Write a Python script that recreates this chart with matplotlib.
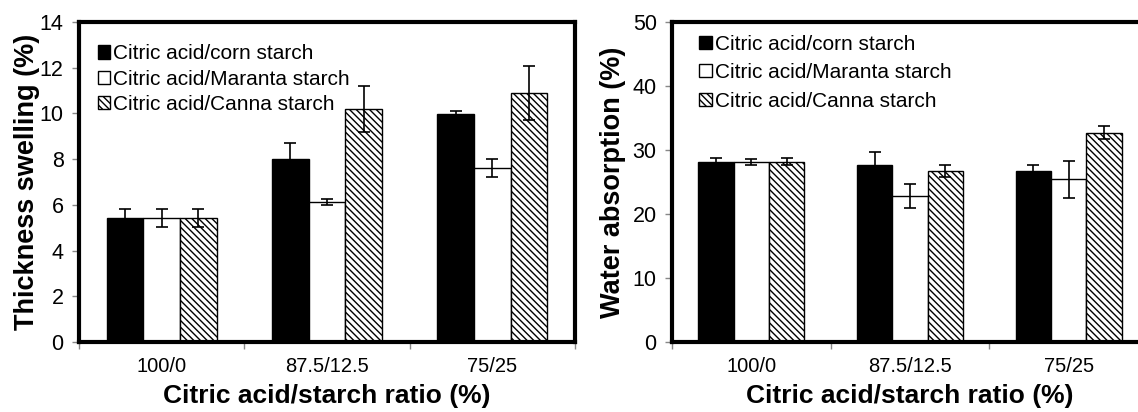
import matplotlib
matplotlib.use('Agg')
import matplotlib.pyplot as plt
import numpy as np

plt.rcParams['font.family'] = ['Liberation Sans', 'DejaVu Sans']
plt.rcParams['hatch.linewidth'] = 1.0

ratios = ['100/0', '87.5/12.5', '75/25']
series = ['Citric acid/corn starch', 'Citric acid/Maranta starch', 'Citric acid/Canna starch']

# thickness swelling (%)
ts_corn = [5.42, 8.0, 9.96]
ts_corn_err = [0.4, 0.72, 0.15]
ts_maranta = [5.42, 6.13, 7.62]
ts_maranta_err = [0.4, 0.14, 0.4]
ts_canna = [5.43, 10.2, 10.9]
ts_canna_err = [0.4, 1.0, 1.17]

# water absorption (%)
wa_corn = [28.2, 27.6, 26.7]
wa_corn_err = [0.5, 2.1, 0.9]
wa_maranta = [28.1, 22.8, 25.4]
wa_maranta_err = [0.5, 1.9, 2.9]
wa_canna = [28.2, 26.7, 32.7]
wa_canna_err = [0.5, 0.9, 1.0]

styles = [dict(color='black', edgecolor='black'),
          dict(color='white', edgecolor='black'),
          dict(color='white', edgecolor='black', hatch='\\\\\\\\\\')]

fig = plt.figure(figsize=(11.38, 4.12), dpi=100)
ax1 = fig.add_axes([79/1138, 70/412, 496/1138, 320/412])
ax2 = fig.add_axes([672/1138, 70/412, 476/1138, 320/412])


def draw(ax, data, errs, ymax, ystep, ylabel, ylab_x, leg_anchor, leg_space):
    x = np.arange(len(ratios))
    w = 0.222
    for i, (vals, err, st) in enumerate(zip(data, errs, styles)):
        pos = x + (i - 1) * w
        ax.bar(pos, vals, w, linewidth=1.0, label=series[i], zorder=2, **st)
        ax.errorbar(pos, vals, yerr=err, fmt='none', ecolor='black',
                    elinewidth=1.2, capsize=4.5, capthick=1.2, zorder=3)
    ax.set_xlim(-0.5, 2.5)
    ax.set_ylim(0, ymax)
    ax.set_yticks(np.arange(0, ymax + 0.1, ystep))
    ax.set_xticks(x)
    ax.set_xticklabels(ratios)
    ax.set_xticks([-0.5, 0.5, 1.5, 2.5], minor=True)
    ax.tick_params(axis='x', which='major', length=0, pad=11, labelsize=14.5)
    ax.tick_params(axis='x', which='minor', length=5, color='#888888', width=1)
    ax.tick_params(axis='y', length=5, color='#888888', width=1, labelsize=15.5, pad=6)
    for s in ax.spines.values():
        s.set_linewidth(3)
        s.set_color('black')
    ax.set_ylabel(ylabel, fontsize=19.5, fontweight='bold')
    ax.yaxis.set_label_coords(ylab_x, 0.5)
    ax.yaxis.label.set_verticalalignment('center')
    ax.set_xlabel('Citric acid/starch ratio (%)', fontsize=19, fontweight='bold')
    ax.xaxis.set_label_coords(0.5, -0.17)
    ax.xaxis.label.set_verticalalignment('center')
    ax.legend(loc='upper left', bbox_to_anchor=leg_anchor, frameon=False,
              fontsize=15, handlelength=0.6, handleheight=0.6,
              handletextpad=0.15, labelspacing=leg_space, borderpad=0,
              borderaxespad=0)


draw(ax1, [ts_corn, ts_maranta, ts_canna], [ts_corn_err, ts_maranta_err, ts_canna_err],
     14, 2, 'Thickness swelling (%)', -0.105, (0.038, 0.93), 0.3)
draw(ax2, [wa_corn, wa_maranta, wa_canna], [wa_corn_err, wa_maranta_err, wa_canna_err],
     50, 10, 'Water absorption (%)', -0.124, (0.057, 0.96), 0.45)

fig.savefig('out.png', dpi=100)
